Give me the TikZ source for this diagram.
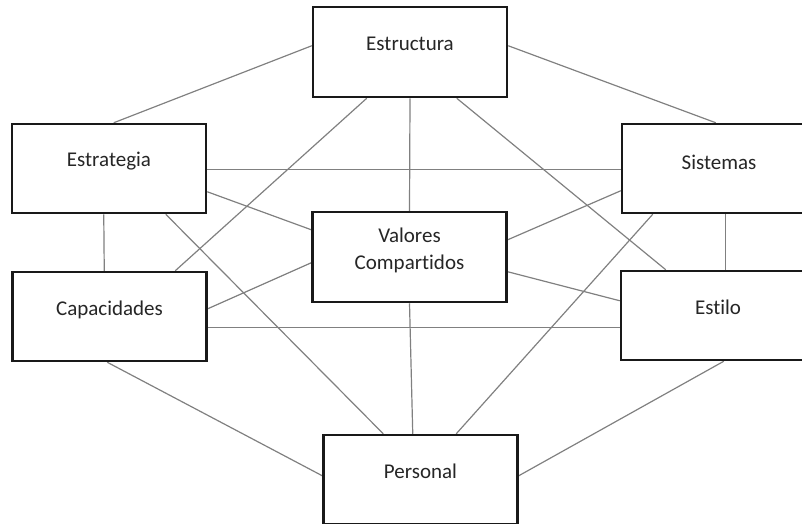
\documentclass[tikz,border=0pt]{standalone}
\usepackage{fontspec}
\setmainfont{Carlito}[Ligatures={NoCommon}]
\definecolor{linegray}{RGB}{128,128,128}
\definecolor{boxblack}{RGB}{25,25,25}
\begin{document}
\begin{tikzpicture}[x=1pt,y=-1pt,
  boxshape/.style={draw=boxblack, line width=2.5pt, fill=white, minimum width=194pt, minimum height=89pt, inner sep=0pt},
  boxtext/.style={font=\fontsize{21}{27.5}\selectfont, text=black!85, align=center, inner sep=0pt},
  conn/.style={draw=linegray, line width=1.2pt}]
\useasboundingbox (0,0) rectangle (802,523);
% boxes
\node[boxshape, minimum height=90pt] (estructura) at (410,52) {};
\node[boxshape] (estrategia) at (109,168.5) {};
\node[boxshape] (sistemas) at (719,168.5) {};
\node[boxshape, minimum height=90pt] (valores) at (409.5,257) {};
\node[boxshape] (capacidades) at (109.5,316.5) {};
\node[boxshape] (estilo) at (718,315.5) {};
\node[boxshape] (personal) at (420.5,479.5) {};
% connectors
\begin{scope}[conn]
\draw ([yshift=-40pt]estructura.north west) -- ([xshift=103pt]estrategia.north west);
\draw ([yshift=-40pt]estructura.north east) -- ([xshift=95pt]sistemas.north west);
\draw ([xshift=55pt]estructura.south west) -- ([xshift=164pt]capacidades.north west);
\draw (estructura.south) -- (valores.north);
\draw ([xshift=145pt]estructura.south west) -- ([xshift=46pt]estilo.north west);
\draw ([yshift=-47pt]estrategia.north east) -- ([yshift=-47pt]sistemas.north west);
\draw ([yshift=-69pt]estrategia.north east) -- ([yshift=-19pt]valores.north west);
\draw ([xshift=155pt]estrategia.south west) -- ([xshift=61pt]personal.north west);
\draw ([xshift=93pt]estrategia.south west) -- ([xshift=93pt]capacidades.north west);
\draw ([yshift=-68pt]sistemas.north west) -- ([yshift=-29pt]valores.north east);
\draw ([xshift=32pt]sistemas.south west) -- ([xshift=134pt]personal.north west);
\draw ([xshift=105pt]sistemas.south west) -- ([xshift=106pt]estilo.north west);
\draw ([yshift=-52pt]valores.north west) -- ([yshift=-38pt]capacidades.north east);
\draw ([yshift=-61pt]valores.north east) -- ([yshift=-31pt]estilo.north west);
\draw (valores.south) -- ([xshift=90.5pt]personal.north west);
\draw ([yshift=-57pt]capacidades.north east) -- ([yshift=-58pt]estilo.north west);
\draw ([xshift=96pt]capacidades.south west) -- ([yshift=-42pt]personal.north west);
\draw ([xshift=104pt]estilo.south west) -- ([yshift=-42pt]personal.north east);
\end{scope}
% redraw boxes on top
\node[boxshape, minimum height=90pt] at (410,52) {};
\node[boxshape] at (109,168.5) {};
\node[boxshape] at (719,168.5) {};
\node[boxshape, minimum height=90pt] at (409.5,257) {};
\node[boxshape] at (109.5,316.5) {};
\node[boxshape] at (718,315.5) {};
\node[boxshape] at (420.5,479.5) {};
% texts
\node[boxtext] (t1) at ([yshift=8pt]estructura.center) {Estructura};
\node[boxtext] (t2) at ([yshift=7pt]estrategia.center) {Estrategia};
\node[boxtext] (t3) at ([yshift=6pt]sistemas.center) {Sistemas};
\node[boxtext] (t4) at ([yshift=6.5pt]valores.center) {Valores\\Compartidos};
\node[boxtext] (t5) at ([yshift=6.5pt]capacidades.center) {Capacidades};
\node[boxtext] (t6) at ([yshift=8pt]estilo.center) {Estilo};
\node[boxtext] (t7) at ([yshift=8pt]personal.center) {Personal};
\end{tikzpicture}
\end{document}
